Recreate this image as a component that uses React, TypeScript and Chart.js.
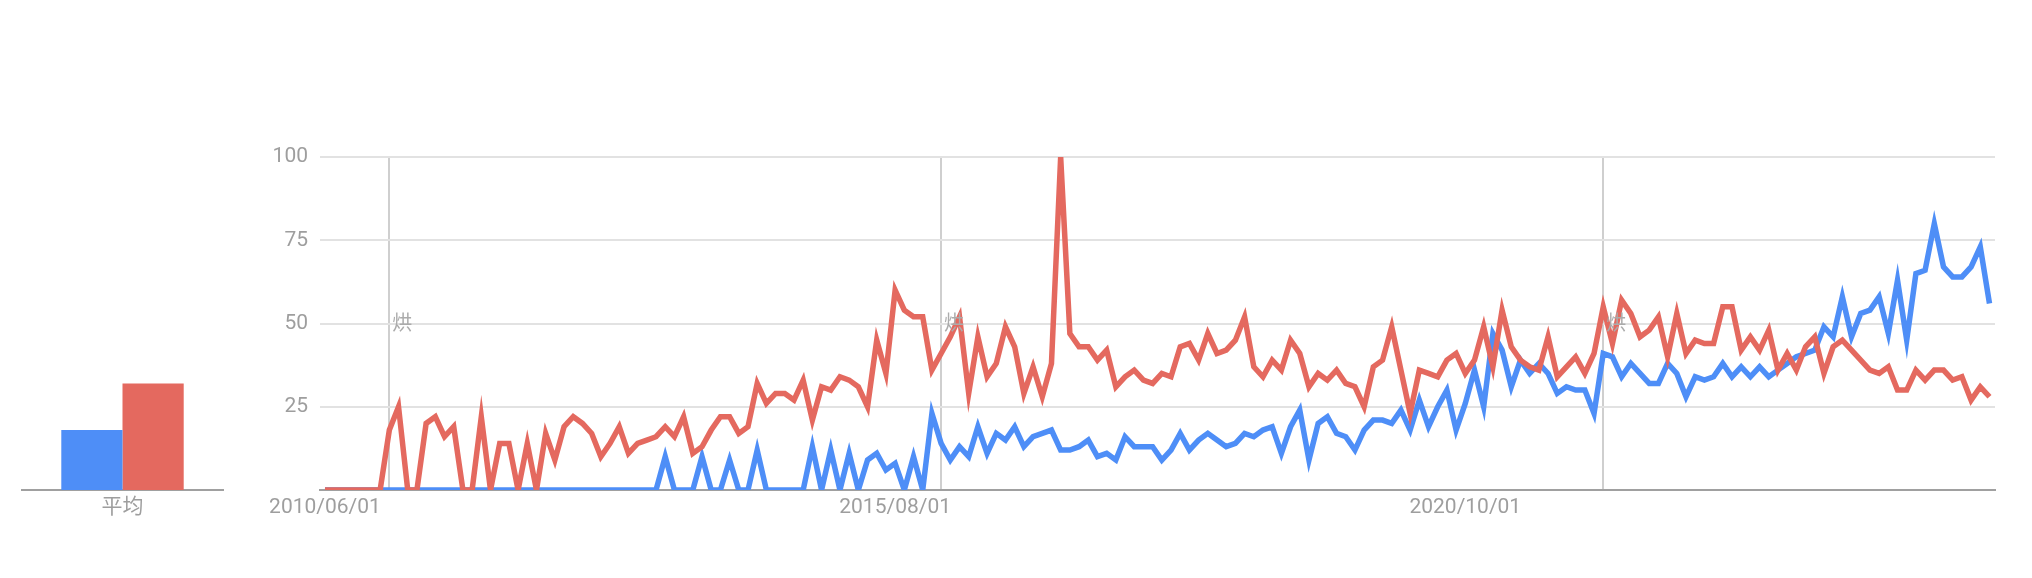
import React, { useEffect, useRef } from 'react';
import { Chart, registerables } from 'chart.js';

Chart.register(...registerables);

// Monthly points, first point = 2010/06
const tickIndices = [0, 62, 124];
const tickLabels = ['2010/06/01', '2015/08/01', '2020/10/01'];
const noteIndices = [7, 67, 139];
const noteText = '烘';
const yTicks = [0, 25, 50, 75, 100];

const blueSeries = [
  0, 0, 0, 0, 0, 0, 0, 0, 0, 0,
  0, 0, 0, 0, 0, 0, 0, 0, 0, 0,
  0, 0, 0, 0, 0, 0, 0, 0, 0, 0,
  0, 0, 0, 0, 0, 0, 0, 10, 0, 0,
  0, 10, 0, 0, 9, 0, 0, 12, 0, 0,
  0, 0, 0, 13, 0, 12, 0, 11, 0, 9,
  11, 6, 8, 0, 10, 0, 23, 14, 9, 13,
  10, 19, 11, 17, 15, 19, 13, 16, 17, 18,
  12, 12, 13, 15, 10, 11, 9, 16, 13, 13,
  13, 9, 12, 17, 12, 15, 17, 15, 13, 14,
  17, 16, 18, 19, 11, 19, 24, 9, 20, 22,
  17, 16, 12, 18, 21, 21, 20, 24, 18, 27,
  19, 25, 30, 18, 26, 36, 25, 47, 42, 31,
  39, 35, 38, 35, 29, 31, 30, 30, 23, 41,
  40, 34, 38, 35, 32, 32, 38, 35, 28, 34,
  33, 34, 38, 34, 37, 34, 37, 34, 36, 38,
  40, 41, 42, 49, 46, 58, 46, 53, 54, 58,
  47, 63, 45, 65, 66, 80, 67, 64, 64, 67,
  73, 56,
];

const redSeries = [
  0, 0, 0, 0, 0, 0, 0, 18, 25, 0,
  0, 20, 22, 16, 19, 0, 0, 22, 0, 14,
  14, 0, 14, 0, 17, 9, 19, 22, 20, 17,
  10, 14, 19, 11, 14, 15, 16, 19, 16, 22,
  11, 13, 18, 22, 22, 17, 19, 32, 26, 29,
  29, 27, 33, 21, 31, 30, 34, 33, 31, 25,
  45, 35, 60, 54, 52, 52, 36, 41, 46, 52,
  29, 46, 34, 38, 49, 43, 29, 37, 28, 38,
  100, 47, 43, 43, 39, 42, 31, 34, 36, 33,
  32, 35, 34, 43, 44, 39, 47, 41, 42, 45,
  52, 37, 34, 39, 36, 45, 41, 31, 35, 33,
  36, 32, 31, 25, 37, 39, 49, 36, 23, 36,
  35, 34, 39, 41, 35, 39, 49, 37, 54, 43,
  39, 37, 36, 46, 34, 37, 40, 35, 41, 55,
  44, 57, 53, 46, 48, 52, 40, 53, 41, 45,
  44, 44, 55, 55, 42, 46, 42, 48, 36, 41,
  36, 43, 46, 35, 43, 45, 42, 39, 36, 35,
  37, 30, 30, 36, 33, 36, 36, 33, 34, 27,
  31, 28,
];

const avgLabels = ['平均'];
const avgBlue = [18];
const avgRed = [32];

const BLUE = '#4e8ef7';
const RED = '#e4695f';
const GRID = '#e2e2e2';
const AXIS = '#a0a0a0';
const TEXT = '#9e9e9e';
const FONT = 'Roboto, "Noto Sans CJK SC", sans-serif';

const notesPlugin = {
  id: 'notes',
  afterDatasetsDraw(chart: any) {
    const { ctx, scales } = chart;
    const x = scales.x;
    const y = scales.y;
    ctx.save();
    ctx.fillStyle = '#ababab';
    ctx.font = '20px "Noto Sans CJK SC", sans-serif';
    ctx.textAlign = 'left';
    ctx.textBaseline = 'middle';
    noteIndices.forEach((i) => {
      ctx.fillText(noteText, x.getPixelForValue(i) + 3, y.getPixelForValue(50) - 1);
    });
    ctx.restore();
  },
};

export default function App() {
  const mainRef = useRef<HTMLCanvasElement | null>(null);
  const barRef = useRef<HTMLCanvasElement | null>(null);

  useEffect(() => {
    const toPts = (arr: number[]) => arr.map((v, i) => ({ x: i, y: v }));
    const main = new Chart(mainRef.current as HTMLCanvasElement, {
      type: 'line',
      data: {
        datasets: [
          {
            data: toPts(blueSeries),
            borderColor: BLUE,
            backgroundColor: BLUE,
            borderWidth: 5.5,
            pointRadius: 0,
            tension: 0,
            order: 1,
          },
          {
            data: toPts(redSeries),
            borderColor: RED,
            backgroundColor: RED,
            borderWidth: 5.5,
            pointRadius: 0,
            tension: 0,
            order: 0,
          },
        ],
      },
      options: {
        animation: false,
        responsive: false,
        maintainAspectRatio: false,
        layout: { padding: { top: 157, right: 37, left: 0, bottom: 0 } },
        plugins: { legend: { display: false }, tooltip: { enabled: false } },
        scales: {
          x: {
            type: 'linear',
            min: -0.54,
            max: 181.6,
            afterBuildTicks: (s: any) => {
              s.ticks = [...tickIndices, ...noteIndices]
                .sort((a, b) => a - b)
                .map((v) => ({ value: v }));
            },
            afterFit: (s: any) => {
              s.height = 88;
            },
            ticks: {
              autoSkip: false,
              maxRotation: 0,
              padding: 5,
              color: TEXT,
              font: { family: FONT, size: 21 },
              callback: (v: any) => {
                const k = tickIndices.indexOf(Number(v));
                return k >= 0 ? tickLabels[k] : '';
              },
            },
            grid: {
              drawTicks: false,
              lineWidth: 2,
              color: (c: any) =>
                c.tick && noteIndices.includes(c.tick.value) ? '#cfcfcf' : 'rgba(0,0,0,0)',
            },
            border: { display: true, color: AXIS, width: 2 },
          },
          y: {
            min: 0,
            max: 100,
            afterBuildTicks: (s: any) => {
              s.ticks = yTicks.map((v) => ({ value: v }));
            },
            afterFit: (s: any) => {
              s.width = 90;
            },
            ticks: {
              padding: 12,
              color: TEXT,
              font: { family: FONT, size: 21 },
              callback: (v: any) => (Number(v) === 0 ? '' : String(v)),
            },
            grid: {
              drawTicks: false,
              lineWidth: 2,
              color: (c: any) => (c.tick && c.tick.value === 0 ? 'rgba(0,0,0,0)' : GRID),
            },
            border: { display: false },
          },
        },
      },
      plugins: [notesPlugin],
    } as any);

    const bar = new Chart(barRef.current as HTMLCanvasElement, {
      type: 'bar',
      data: {
        labels: avgLabels,
        datasets: [
          { data: avgBlue, backgroundColor: BLUE, categoryPercentage: 0.609, barPercentage: 1 },
          { data: avgRed, backgroundColor: RED, categoryPercentage: 0.609, barPercentage: 1 },
        ],
      },
      options: {
        animation: false,
        responsive: false,
        maintainAspectRatio: false,
        layout: { padding: { top: 157, right: 7, left: 22, bottom: 0 } },
        plugins: { legend: { display: false }, tooltip: { enabled: false } },
        scales: {
          x: {
            afterFit: (s: any) => {
              s.height = 88;
            },
            ticks: {
              padding: 5,
              color: TEXT,
              font: { family: FONT, size: 21 },
            },
            grid: { drawTicks: false, color: 'rgba(0,0,0,0)' },
            border: { display: true, color: AXIS, width: 2 },
          },
          y: { display: false, min: 0, max: 100 },
        },
      },
    } as any);

    return () => {
      main.destroy();
      bar.destroy();
    };
  }, []);

  return (
    <div style={{ position: 'absolute', left: 0, top: 0, width: 2032, height: 578, background: '#fff' }}>
      <canvas
        ref={barRef}
        width={230}
        height={578}
        style={{ position: 'absolute', left: 0, top: 0, width: 230, height: 578 }}
      />
      <canvas
        ref={mainRef}
        width={1802}
        height={578}
        style={{ position: 'absolute', left: 230, top: 0, width: 1802, height: 578 }}
      />
    </div>
  );
}
